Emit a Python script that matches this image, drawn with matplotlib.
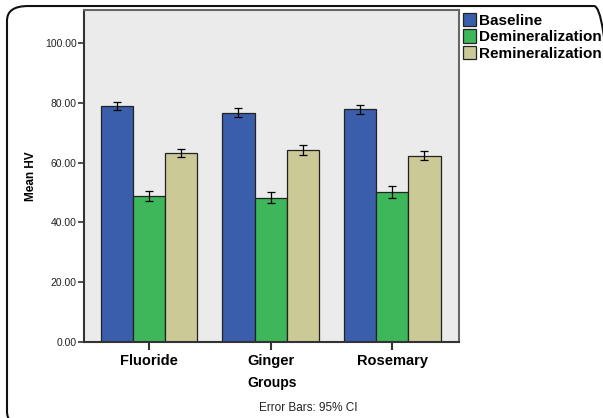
import matplotlib
matplotlib.use("Agg")
import numpy as np
import matplotlib.pyplot as plt
from matplotlib.patches import FancyBboxPatch

plt.rcParams["font.family"] = ["Liberation Sans", "DejaVu Sans"]

groups = ["Fluoride", "Ginger", "Rosemary"]
series = ["Baseline", "Demineralization", "Remineralization"]
baseline = [78.8, 76.6, 77.8]
demin = [48.8, 48.3, 50.2]
remin = [63.1, 64.1, 62.3]
ci_baseline = [1.4, 1.5, 1.5]
ci_demin = [1.7, 1.9, 1.9]
ci_remin = [1.4, 1.6, 1.5]
yticks = [0, 20, 40, 60, 80, 100]

colors = ["#3a5eab", "#3eb65a", "#cbca97"]
means = [baseline, demin, remin]
cis = [ci_baseline, ci_demin, ci_remin]

fig = plt.figure(figsize=(6.03, 4.18), dpi=100)
ax = fig.add_axes([0.139, 0.182, 0.623, 0.794])
ax.set_facecolor("#ebebeb")

x = np.arange(len(groups))
w = 0.265
for i, (name, m, c, col) in enumerate(zip(series, means, cis, colors)):
    ax.bar(x + (i - 1) * w, m, w, color=col, edgecolor="#222222", linewidth=0.9,
           label=name, zorder=2)
    ax.errorbar(x + (i - 1) * w, m, yerr=c, fmt="none", ecolor="black",
                elinewidth=0.9, capsize=3, capthick=0.9, zorder=3)

ax.set_xlim(-0.536, 2.553)
ax.set_ylim(0, 111)
ax.set_yticks(yticks)
ax.set_yticklabels([f"{v:.2f}" for v in yticks], fontsize=7.5, color="#222222")
ax.set_xticks(x)
ax.set_xticklabels(groups, fontsize=10.5, fontweight="bold")
ax.tick_params(axis="y", length=4, width=1.2, pad=1, color="#333333")
ax.tick_params(axis="x", length=6, width=1.5, pad=3, color="#333333")
for s in ax.spines.values():
    s.set_color("#666666")
    s.set_linewidth(1.5)
ax.spines["left"].set_color("#333333")
ax.spines["bottom"].set_color("#333333")

ax.set_xlabel("Groups", fontsize=10, fontweight="bold", labelpad=5.5)
ax.set_ylabel("Mean HV", fontsize=8.5, fontweight="bold", labelpad=6)

leg = ax.legend(loc="upper left", bbox_to_anchor=(1.0, 1.0), frameon=False,
                prop={"size": 11, "weight": "bold"}, handlelength=0.9,
                handleheight=0.95, handletextpad=0.15, labelspacing=0.1,
                borderaxespad=0.2, borderpad=0.0)

fig.text(0.512, 0.024, "Error Bars: 95% CI", fontsize=8.5, ha="center",
         va="center", color="#222222")

border = FancyBboxPatch((7 / 603, -0.02), 1.02 - 7 / 603, 1.0056,
                        boxstyle="round,pad=0,rounding_size=0.035",
                        transform=fig.transFigure, fill=False,
                        edgecolor="#111111", linewidth=1.5, clip_on=False)
fig.patches.append(border)

fig.savefig("out.png", dpi=100)
